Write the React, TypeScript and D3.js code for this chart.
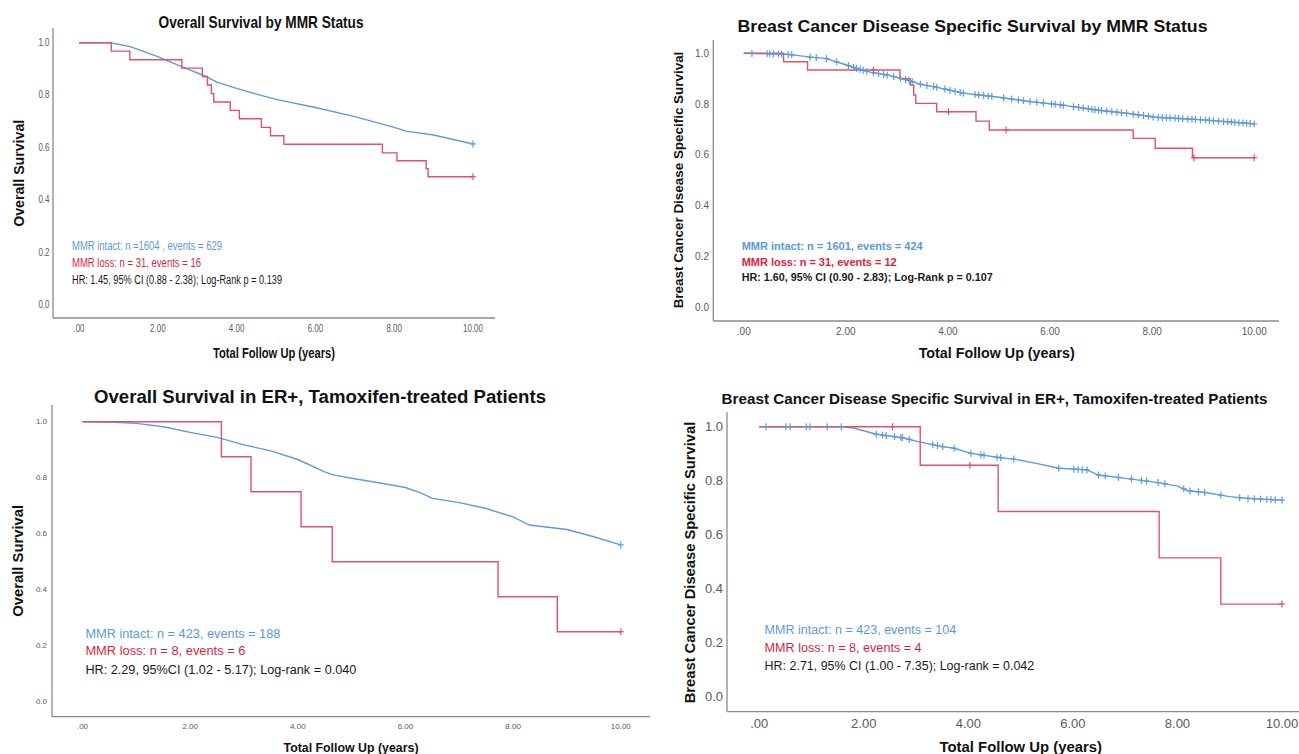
import React from "react";
import * as d3 from "d3";

// ---------------- DATA ----------------
const xTickValues = [0, 2, 4, 6, 8, 10];
const xTickLabels = [".00", "2.00", "4.00", "6.00", "8.00", "10.00"];
const yTickValues = [0, 0.2, 0.4, 0.6, 0.8, 1.0];
const yTickLabels = ["0.0", "0.2", "0.4", "0.6", "0.8", "1.0"];

const titles = [
  "Overall Survival by MMR Status",
  "Breast Cancer Disease Specific Survival by MMR Status",
  "Overall Survival in ER+, Tamoxifen-treated Patients",
  "Breast Cancer Disease Specific Survival in ER+, Tamoxifen-treated Patients",
];
const yAxisTitles = [
  "Overall Survival",
  "Breast Cancer Disease Specific Survival",
  "Overall Survival",
  "Breast Cancer Disease Specific Survival",
];
const xAxisTitle = "Total Follow Up (years)";

const intactNotes = [
  "MMR intact: n =1604 , events = 629",
  "MMR intact: n = 1601, events = 424",
  "MMR intact: n = 423, events = 188",
  "MMR intact: n = 423, events = 104",
];
const lossNotes = [
  "MMR loss: n = 31, events = 16",
  "MMR loss: n = 31, events = 12",
  "MMR loss: n = 8, events = 6",
  "MMR loss: n = 8, events = 4",
];
const hrNotes = [
  "HR: 1.45, 95% CI (0.88 - 2.38); Log-Rank p = 0.139",
  "HR: 1.60, 95% CI (0.90 - 2.83); Log-Rank p = 0.107",
  "HR: 2.29, 95%CI (1.02 - 5.17); Log-rank = 0.040",
  "HR: 2.71, 95% CI (1.00 - 7.35); Log-rank = 0.042",
];

// Panel 1: OS by MMR status
const osIntactT = [0, 0.8, 1.3, 2.0, 2.6, 3.2, 3.5, 4.0, 4.6, 5.0, 6.0, 7.0, 8.0, 8.3, 9.0, 10];
const osIntactS = [1, 1.0, 0.985, 0.947, 0.909, 0.873, 0.85, 0.826, 0.8, 0.784, 0.753, 0.718, 0.677, 0.663, 0.648, 0.614];
const osIntactCensor = [10];
const osLossT = [0, 0.82, 1.29, 2.61, 3.13, 3.26, 3.36, 3.42, 3.84, 4.07, 4.63, 4.86, 5.2, 7.7, 8.07, 8.81, 8.86, 10];
const osLossS = [1, 0.968, 0.935, 0.903, 0.871, 0.839, 0.806, 0.774, 0.742, 0.71, 0.677, 0.645, 0.613, 0.58, 0.55, 0.52, 0.489, 0.489];
const osLossCensor = [10];

// Panel 2: BCSS by MMR status
const dssIntactT = [0, 0.8, 1.0, 1.3, 1.6, 2.0, 2.2, 2.5, 2.8, 3.2, 3.5, 3.72, 4.3, 5.0, 5.6, 6.25, 6.9, 7.5, 8.08, 9.0, 10];
const dssIntactS = [1, 0.997, 0.993, 0.985, 0.98, 0.955, 0.941, 0.925, 0.915, 0.895, 0.876, 0.869, 0.843, 0.827, 0.81, 0.796, 0.777, 0.764, 0.748, 0.738, 0.722];
const dssIntactCensor = [
  0.16, 0.46, 0.51, 0.58, 0.68, 0.74, 0.87, 0.94, 1.3, 1.42, 1.62, 1.82, 2.05, 2.15, 2.21, 2.28, 2.34, 2.41,
  2.54, 2.64, 2.74, 2.81, 2.94, 3.07, 3.17, 3.24, 3.3, 3.46, 3.59, 3.72, 3.78, 3.94, 4.04, 4.14, 4.24, 4.3,
  4.53, 4.6, 4.7, 4.79, 4.86, 5.09, 5.25, 5.38, 5.48, 5.61, 5.74, 5.87, 6.03, 6.1, 6.2, 6.26, 6.46, 6.56,
  6.65, 6.75, 6.82, 6.88, 6.95, 7.01, 7.11, 7.21, 7.31, 7.4, 7.5, 7.63, 7.73, 7.83, 7.93, 8.02, 8.12, 8.2,
  8.28, 8.35, 8.45, 8.52, 8.6, 8.7, 8.78, 8.85, 8.95, 9.05, 9.12, 9.2, 9.3, 9.4, 9.48, 9.55, 9.62, 9.7,
  9.78, 9.85, 9.92, 10,
];
const dssLossT = [0, 0.78, 1.25, 3.06, 3.26, 3.33, 3.37, 3.78, 4.55, 4.81, 7.63, 8.06, 8.79, 10];
const dssLossS = [1, 0.967, 0.934, 0.9, 0.875, 0.836, 0.803, 0.77, 0.733, 0.698, 0.665, 0.626, 0.589, 0.589];
const dssLossCensor = [2.54, 4.01, 5.14, 8.82, 10];

// Panel 3: OS in ER+, tamoxifen-treated
const tamOsIntactT = [0, 0.6, 1.0, 1.5, 2.0, 2.5, 3.0, 3.5, 4.0, 4.5, 4.66, 5.0, 5.5, 6.0, 6.3, 6.5, 7.0, 7.5, 8.0, 8.3, 9.0, 9.5, 10];
const tamOsIntactS = [1, 0.998, 0.994, 0.982, 0.962, 0.944, 0.917, 0.896, 0.865, 0.821, 0.81, 0.798, 0.782, 0.765, 0.744, 0.726, 0.711, 0.69, 0.66, 0.631, 0.615, 0.589, 0.56];
const tamOsIntactCensor = [10];
const tamOsLossT = [0, 2.58, 3.13, 4.06, 4.64, 7.72, 8.82, 10];
const tamOsLossS = [1, 0.875, 0.75, 0.625, 0.5, 0.375, 0.25, 0.25];
const tamOsLossCensor = [10];

// Panel 4: BCSS in ER+, tamoxifen-treated
const tamDssIntactT = [0, 1.6, 1.8, 2.0, 2.24, 2.74, 3.06, 3.51, 3.73, 4.05, 4.55, 4.87, 5.3, 5.73, 6.27, 6.49, 7.12, 7.63, 8.0, 8.2, 8.5, 9.0, 9.3, 10];
const tamDssIntactS = [1, 1.0, 0.995, 0.985, 0.972, 0.959, 0.944, 0.926, 0.92, 0.901, 0.887, 0.88, 0.864, 0.846, 0.84, 0.821, 0.806, 0.793, 0.78, 0.763, 0.757, 0.741, 0.735, 0.728];
const tamDssIntactCensor = [
  0.13, 0.51, 0.59, 0.9, 0.97, 1.3, 1.57, 2.24, 2.36, 2.43, 2.59, 2.71, 2.74, 2.87, 3.32, 3.41, 3.51, 3.73,
  4.05, 4.24, 4.3, 4.55, 4.62, 4.87, 5.73, 6.02, 6.1, 6.18, 6.27, 6.49, 6.62, 6.87, 7.12, 7.31, 7.41, 7.63,
  7.76, 8.12, 8.24, 8.4, 8.52, 8.83, 9.19, 9.35, 9.47, 9.59, 9.71, 9.79, 9.87, 10,
];
const tamDssLossT = [0, 3.08, 4.57, 7.65, 8.83, 10];
const tamDssLossS = [1, 0.857, 0.686, 0.514, 0.343, 0.343];
const tamDssLossCensor = [2.55, 4.03, 10];

// ---------------- LAYOUT / STYLE ----------------
const FONT = "'Liberation Sans', Arial, Helvetica, sans-serif";
const BLUE = "#5f9bd8";
const RED = "#e0526c";
const BLUE_TXT = "#5a9ad8";
const RED_TXT = "#d81f42";
const AXIS = "#8a8a8a";
const TICK_TXT = "#5a5a5a";

const layouts = [
  {
    x0: 79, x10: 473, yTop: 42.7, yBot: 305, axisX: 53, axisTop: 28, axisBottom: 318, axisRight: 495,
    yTickRight: 49.5, yTickSize: 10, xTickY: 329, xTickSize: 10, tickSx: 0.8,
    title: { x: 261, y: 22.7, size: 17, len: 205 },
    xLab: { x: 274, y: 352.7, size: 14, len: 122 },
    yLab: { x: 19, y: 173.3, size: 14, len: 107 },
    ann: { x: 72, ys: [246, 262.5, 279.5], size: 12, lens: [150, 129, 210], bold: false },
  },
  {
    x0: 743.75, x10: 1254.2, yTop: 53.3, yBot: 307.3, axisX: 713.3, axisTop: 40, axisBottom: 321, axisRight: 1279,
    yTickRight: 709, yTickSize: 10, xTickY: 331, xTickSize: 10, tickSx: 1,
    title: { x: 972.5, y: 26, size: 17, len: 470 },
    xLab: { x: 996.7, y: 353.3, size: 14, len: 156 },
    yLab: { x: 678.3, y: 180, size: 13.5, len: 256.7 },
    ann: { x: 741.7, ys: [246, 261.7, 277.3], size: 11, lens: [181, 155, 251], bold: true },
  },
  {
    x0: 82.5, x10: 620.8, yTop: 421.7, yBot: 701.7, axisX: 52, axisTop: 405, axisBottom: 716.7, axisRight: 650,
    yTickRight: 47, yTickSize: 8, xTickY: 726, xTickSize: 8, tickSx: 1,
    title: { x: 320, y: 397.3, size: 18, len: 452 },
    xLab: { x: 351, y: 748.3, size: 12.5, len: 135 },
    yLab: { x: 17.5, y: 560.8, size: 14.5, len: 112 },
    ann: { x: 85.4, ys: [634.3, 651, 670], size: 12.5, lens: [195, 160, 271], bold: false },
  },
  {
    x0: 759.2, x10: 1282, yTop: 426.7, yBot: 696.7, axisX: 727, axisTop: 412, axisBottom: 711.7, axisRight: 1299,
    yTickRight: 723, yTickSize: 13, xTickY: 723.3, xTickSize: 13, tickSx: 1,
    title: { x: 994.6, y: 398.3, size: 15, len: 546 },
    xLab: { x: 1020.8, y: 746.7, size: 14.5, len: 162.5 },
    yLab: { x: 689.6, y: 562.5, size: 14.5, len: 281.7 },
    ann: { x: 764.6, ys: [630, 647.7, 666], size: 12.5, lens: [191.7, 157, 269.6], bold: false },
  },
];

const series = [
  { iT: osIntactT, iS: osIntactS, iC: osIntactCensor, lT: osLossT, lS: osLossS, lC: osLossCensor },
  { iT: dssIntactT, iS: dssIntactS, iC: dssIntactCensor, lT: dssLossT, lS: dssLossS, lC: dssLossCensor },
  { iT: tamOsIntactT, iS: tamOsIntactS, iC: tamOsIntactCensor, lT: tamOsLossT, lS: tamOsLossS, lC: tamOsLossCensor },
  { iT: tamDssIntactT, iS: tamDssIntactS, iC: tamDssIntactCensor, lT: tamDssLossT, lS: tamDssLossS, lC: tamDssLossCensor },
];

function linearAt(ts: number[], ss: number[], t: number) {
  const i = d3.bisectRight(ts, t);
  if (i <= 0) return ss[0];
  if (i >= ts.length) return ss[ss.length - 1];
  const t0 = ts[i - 1], t1 = ts[i];
  const f = (t - t0) / (t1 - t0);
  return ss[i - 1] + f * (ss[i] - ss[i - 1]);
}
function stepAt(ts: number[], ss: number[], t: number) {
  const i = d3.bisectRight(ts, t);
  return ss[Math.max(0, i - 1)];
}

function Censor({ x, y, color }: { x: number; y: number; color: string }) {
  return (
    <g stroke={color} strokeWidth={1.2}>
      <line x1={x} x2={x} y1={y - 3.5} y2={y + 3.5} />
      <line x1={x - 3} x2={x + 3} y1={y} y2={y} />
    </g>
  );
}

function Panel({ idx }: { idx: number }) {
  const L = layouts[idx];
  const S = series[idx];
  const x = d3.scaleLinear().domain([0, 10]).range([L.x0, L.x10]);
  const y = d3.scaleLinear().domain([0, 1]).range([L.yBot, L.yTop]);
  const pts = (ts: number[], ss: number[]) => ts.map((t, i) => [t, ss[i]] as [number, number]);
  const blueLine = d3
    .line<[number, number]>()
    .x((d) => x(d[0]))
    .y((d) => y(d[1]))
    .curve(d3.curveLinear)(pts(S.iT, S.iS)) as string;
  const redLine = d3
    .line<[number, number]>()
    .x((d) => x(d[0]))
    .y((d) => y(d[1]))
    .curve(d3.curveStepAfter)(pts(S.lT, S.lS)) as string;

  return (
    <g fontFamily={FONT}>
      {/* axes */}
      <line x1={L.axisX} x2={L.axisX} y1={L.axisTop} y2={L.axisBottom} stroke={AXIS} strokeWidth={1.3} />
      <line x1={L.axisX} x2={L.axisRight} y1={L.axisBottom} y2={L.axisBottom} stroke={AXIS} strokeWidth={1.3} />
      {yTickValues.map((v, i) => (
        <text key={"y" + i} transform={`translate(${L.yTickRight},${y(v)}) scale(${L.tickSx},1)`} textAnchor="end" dominantBaseline="central" fontSize={L.yTickSize} fill={TICK_TXT}>
          {yTickLabels[i]}
        </text>
      ))}
      {xTickValues.map((v, i) => (
        <text key={"x" + i} transform={`translate(${x(v)},${L.xTickY}) scale(${L.tickSx},1)`} textAnchor="middle" dominantBaseline="central" fontSize={L.xTickSize} fill={TICK_TXT}>
          {xTickLabels[i]}
        </text>
      ))}
      {/* titles */}
      <text x={L.title.x} y={L.title.y} textAnchor="middle" dominantBaseline="central" fontSize={L.title.size} fontWeight="bold" fill="#111" textLength={L.title.len} lengthAdjust="spacingAndGlyphs">
        {titles[idx]}
      </text>
      <text x={L.xLab.x} y={L.xLab.y} textAnchor="middle" dominantBaseline="central" fontSize={L.xLab.size} fontWeight="bold" fill="#111" textLength={L.xLab.len} lengthAdjust="spacingAndGlyphs">
        {xAxisTitle}
      </text>
      <text transform={`translate(${L.yLab.x},${L.yLab.y}) rotate(-90)`} textAnchor="middle" dominantBaseline="central" fontSize={L.yLab.size} fontWeight="bold" fill="#111" textLength={L.yLab.len} lengthAdjust="spacingAndGlyphs">
        {yAxisTitles[idx]}
      </text>
      {/* curves */}
      <path d={blueLine} fill="none" stroke={BLUE} strokeWidth={1.4} />
      <path d={redLine} fill="none" stroke={RED} strokeWidth={1.4} />
      {S.iC.map((t, i) => (
        <Censor key={"ic" + i} x={x(t)} y={y(linearAt(S.iT, S.iS, t))} color={BLUE} />
      ))}
      {S.lC.map((t, i) => (
        <Censor key={"lc" + i} x={x(t)} y={y(stepAt(S.lT, S.lS, t))} color={RED} />
      ))}
      {/* annotations */}
      {[intactNotes[idx], lossNotes[idx], hrNotes[idx]].map((s, i) => (
        <text key={"a" + i} x={L.ann.x} y={L.ann.ys[i]} dominantBaseline="central" fontSize={L.ann.size} fontWeight={L.ann.bold ? "bold" : "normal"} fill={i === 0 ? BLUE_TXT : i === 1 ? RED_TXT : "#1a1a1a"} textLength={L.ann.lens[i]} lengthAdjust="spacingAndGlyphs">
          {s}
        </text>
      ))}
    </g>
  );
}

export default function App() {
  return (
    <svg width={1299} height={754} style={{ position: "absolute", left: 0, top: 0, background: "#fff" }}>
      <rect width={1299} height={754} fill="#fff" />
      {[0, 1, 2, 3].map((i) => (
        <Panel key={i} idx={i} />
      ))}
    </svg>
  );
}
